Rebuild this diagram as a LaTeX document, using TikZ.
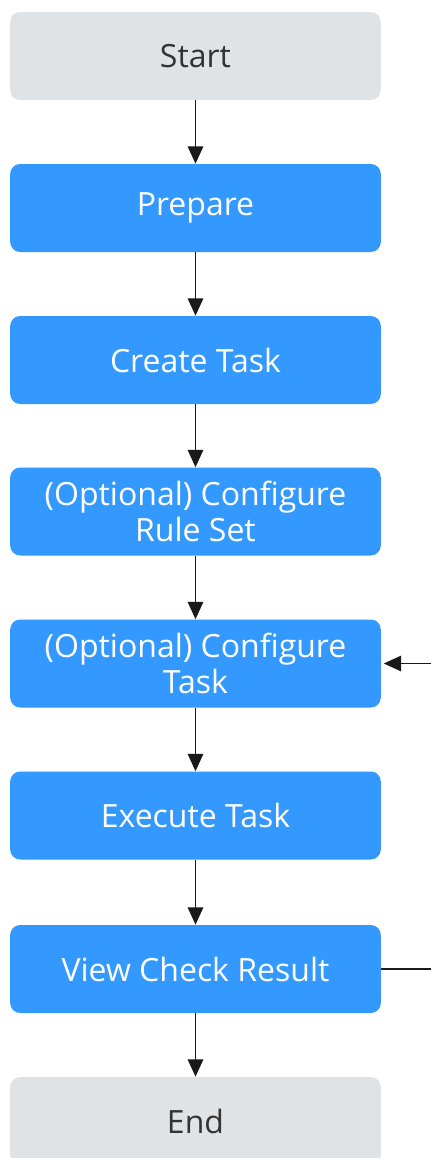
\documentclass[tikz,border=0pt]{standalone}
\usepackage{fontspec}
\setmainfont{Open Sans}
\usetikzlibrary{arrows.meta}
\definecolor{stepblue}{HTML}{3399FF}
\definecolor{termgray}{HTML}{E0E3E5}
\definecolor{textdark}{HTML}{333333}

\tikzset{
  flowbox/.style={rounded corners=7.5pt, minimum width=278pt, minimum height=66pt,
    align=center, inner sep=0pt, font=\fontsize{24}{26.5}\selectfont},
  stepbox/.style={flowbox, fill=stepblue, text=white},
  termbox/.style={flowbox, fill=termgray, text=textdark},
  flowarrow/.style={-{Triangle[length=13pt, width=11.5pt]}, line width=1.4pt, black!90}
}

\begin{document}
\begin{tikzpicture}[x=0.75pt, y=-0.75pt]
  \useasboundingbox (0,0) rectangle (431,1158);
  \clip (0,0) rectangle (431,1158);

  % Steps
  \node[termbox] (start) at (195.5,56) {Start};
  \node[stepbox] (prepare) at (195.5,208) {Prepare};
  \node[stepbox] (create) at (195.5,360) {Create Task};
  \node[stepbox] (ruleset) at (195.5,511.5) {(Optional) Configure\\Rule Set};
  \node[stepbox] (conftask) at (195.5,663.5) {(Optional) Configure\\Task};
  \node[stepbox] (execute) at (195.5,815.5) {Execute Task};
  \node[stepbox] (view) at (195.5,969) {View Check Result};
  \node[termbox] (end) at (195.5,1121) {End};

  % Main flow
  \draw[flowarrow] (start) -- (prepare);
  \draw[flowarrow] (prepare) -- (create);
  \draw[flowarrow] (create) -- (ruleset);
  \draw[flowarrow] (ruleset) -- (conftask);
  \draw[flowarrow] (conftask) -- (execute);
  \draw[flowarrow] (execute) -- (view);
  \draw[flowarrow] (view) -- (end);

  % Loop back to task configuration
  \coordinate (loopright) at (440,969);
  \draw[flowarrow] (view.east) -- (loopright) |- ([xshift=2pt]conftask.east);
\end{tikzpicture}
\end{document}
